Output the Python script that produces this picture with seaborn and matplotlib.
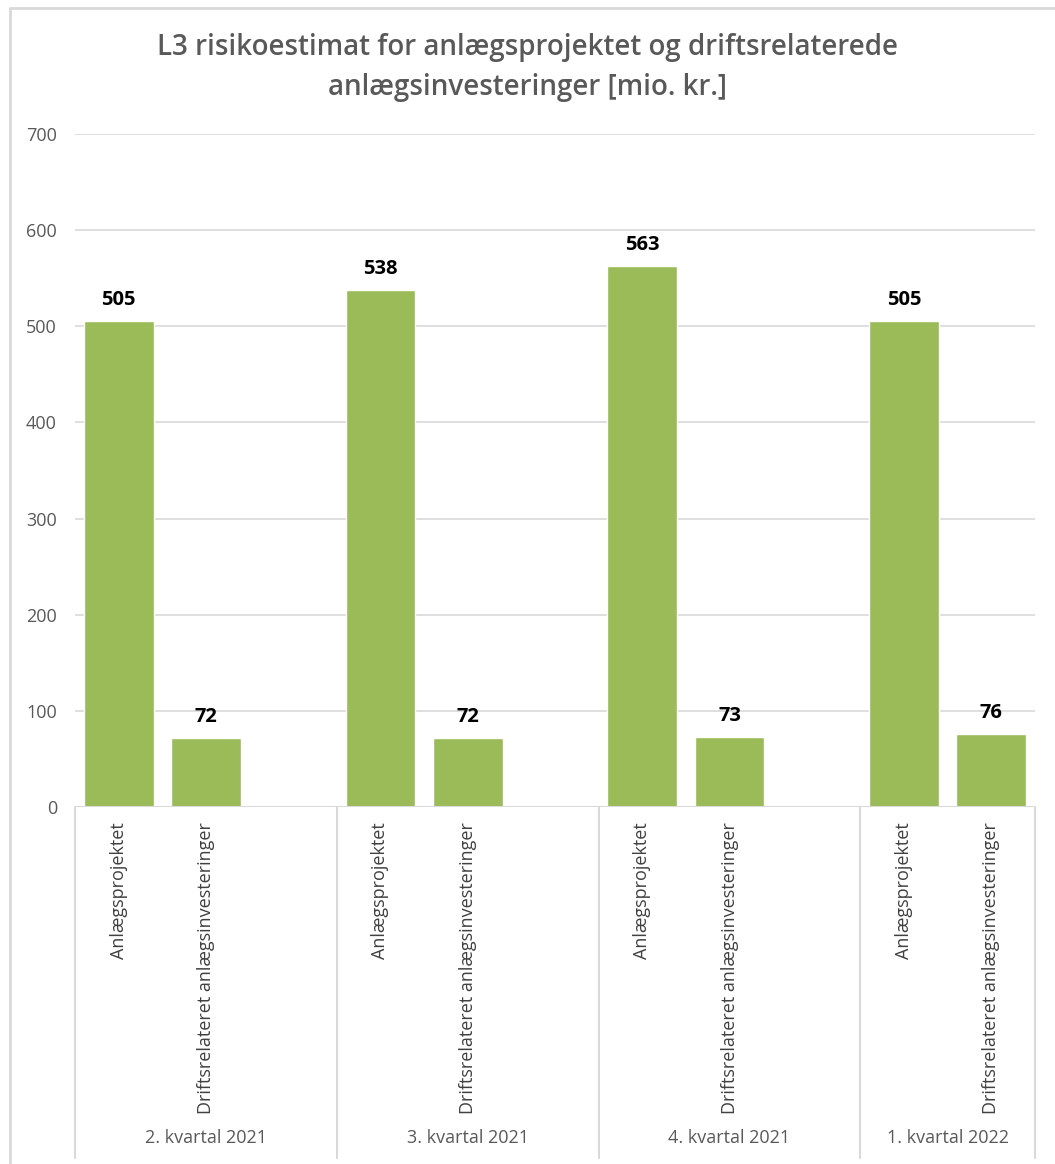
import matplotlib
matplotlib.use("Agg")
import matplotlib.pyplot as plt
import seaborn as sns
import pandas as pd
from matplotlib.lines import Line2D

# ---- data ----
quarters = ["2. kvartal 2021", "3. kvartal 2021", "4. kvartal 2021", "1. kvartal 2022"]
series_names = ["Anlægsprojektet", "Driftsrelateret anlægsinvesteringer"]
anlaeg = [505, 538, 563, 505]
drift = [72, 72, 73, 76]
title = "L3 risikoestimat for anlægsprojektet og driftsrelaterede\nanlægsinvesteringer [mio. kr.]"
yticks = [0, 100, 200, 300, 400, 500, 600, 700]

# build table: each quarter occupies 3 slots (2 bars + empty gap), last has no gap
rows = []
for qi, q in enumerate(quarters):
    rows.append({"pos": qi * 3 + 0, "value": anlaeg[qi], "label": series_names[0], "quarter": q})
    rows.append({"pos": qi * 3 + 1, "value": drift[qi], "label": series_names[1], "quarter": q})
df = pd.DataFrame(rows)

sns.set_theme(style="white")
plt.rcParams["font.family"] = ["Open Sans", "DejaVu Sans"]

W, H = 1055, 1164
fig = plt.figure(figsize=(W / 100, H / 100), dpi=100)

x0, x1 = 75, 1035
ytop, ybot = 134, 807
ax = fig.add_axes([x0 / W, 1 - ybot / H, (x1 - x0) / W, (ybot - ytop) / H])

green = "#9BBB59"
grid_c = "#D9D9D9"
text_c = "#595959"

sns.barplot(data=df, x="pos", y="value", native_scale=True, color=green,
            width=0.8, saturation=1, ax=ax, errorbar=None)

ax.set_xlim(-0.5, 10.5)
ax.set_ylim(0, 700)
ax.set_yticks(yticks)
ax.set_yticklabels([str(v) for v in yticks], fontsize=13, color=text_c)
ax.tick_params(axis="y", length=0, pad=13)
ax.set_xticks([])
ax.set_xlabel("")
ax.set_ylabel("")
for s in ax.spines.values():
    s.set_visible(False)
ax.yaxis.grid(True, color=grid_c, linewidth=1.2)
ax.set_axisbelow(True)
ax.axhline(0, color=grid_c, linewidth=1.5, zorder=3)

# data labels
for p, v in zip(df["pos"], df["value"]):
    ax.annotate(str(v), (p, v), xytext=(0, 8), textcoords="offset points",
                ha="center", va="bottom", fontsize=14.5, fontweight="bold", color="black")

trans = ax.get_xaxis_transform()
axh_px = ybot - ytop
for p, lab in zip(df["pos"], df["label"]):
    ax.text(p, -(822 - ybot) / axh_px, lab,
            transform=trans, rotation=90, ha="center", va="top",
            fontsize=13, color="#404040", clip_on=False)

group_centers = [1.0, 4.0, 7.0, 9.5]
for gc, q in zip(group_centers, quarters):
    ax.text(gc, -(1138 - ybot) / axh_px, q, transform=trans,
            ha="center", va="center", fontsize=13, color=text_c, clip_on=False)

# group separators
for b in [-0.5, 2.5, 5.5, 8.5, 10.5]:
    ax.add_line(Line2D([b, b], [0, -(1158 - ybot) / axh_px], transform=trans,
                       color=grid_c, linewidth=1.5, clip_on=False))

# title
fig.text(0.5, 1 - 68 / H, title, ha="center", va="center", fontsize=20,
         fontweight="semibold", color=text_c, linespacing=1.5)

# outer chart frame (top and left edges visible)
fig.add_artist(Line2D([10 / W, 1.0], [1 - 8 / H, 1 - 8 / H], transform=fig.transFigure,
                      color=grid_c, linewidth=2))
fig.add_artist(Line2D([10 / W, 10 / W], [0, 1 - 8 / H], transform=fig.transFigure,
                      color=grid_c, linewidth=2))

fig.savefig("out.png", dpi=100, facecolor="white")
